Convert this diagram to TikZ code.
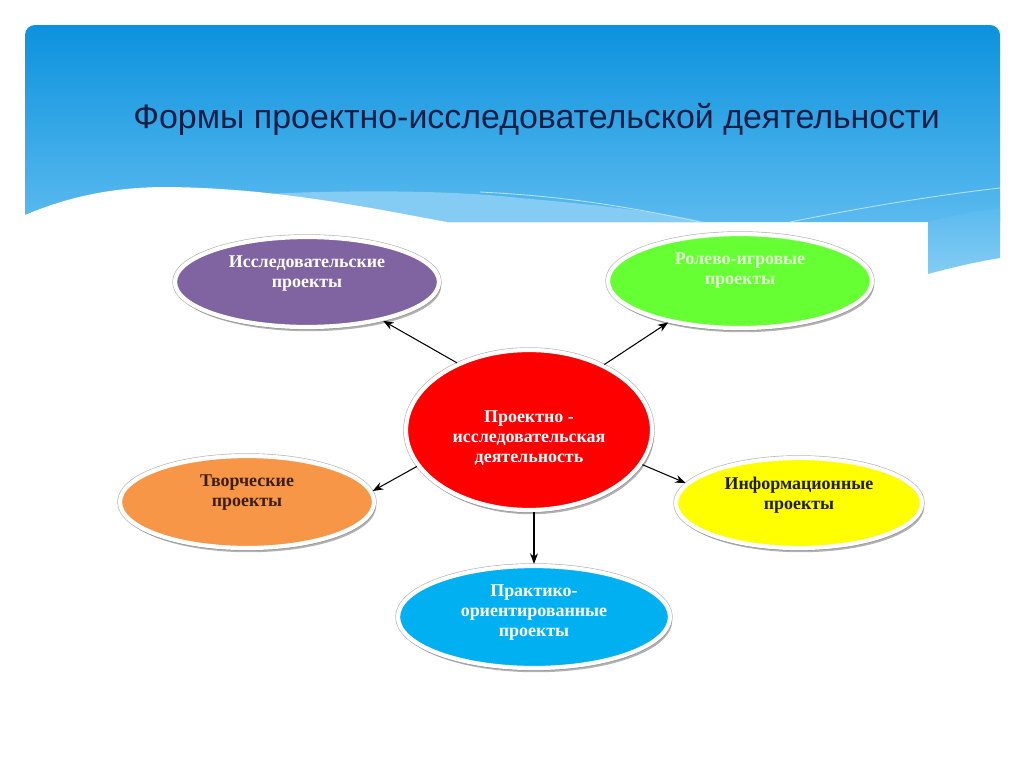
\documentclass[tikz,border=0pt]{standalone}
\usepackage{fontspec}
\setmainfont{Liberation Serif}
\newfontfamily\titlefont{Liberation Sans}
\usetikzlibrary{shapes.geometric,arrows.meta,shadows}
\definecolor{hdtop}{RGB}{12,146,221}
\definecolor{hdbot}{RGB}{90,186,239}
\definecolor{bandc}{RGB}{132,204,243}
\definecolor{titlec}{RGB}{22,30,70}
\definecolor{cpurple}{RGB}{128,100,162}
\definecolor{cgreen}{RGB}{102,255,51}
\definecolor{cred}{RGB}{255,0,0}
\definecolor{corange}{RGB}{247,150,70}
\definecolor{cyellow}{RGB}{255,255,0}
\definecolor{cblue}{RGB}{0,176,240}
\definecolor{tgreen}{RGB}{225,250,210}
\definecolor{tbrown}{RGB}{60,30,15}
\definecolor{tdark}{RGB}{30,30,10}
\tikzset{
  oval/.style 2 args={ellipse, inner sep=0pt,
    minimum width={#1*0.02cm}, minimum height={#2*0.02cm},
    draw=white, line width=2.4pt,
    preaction={draw=black!30, line width=3.1pt},
    drop shadow={shadow xshift=1.2pt, shadow yshift=-2.4pt, fill=black!55, opacity=.55}},
  lbl/.style={align=center, inner sep=0pt, font=\fontsize{10.2}{11.4}\selectfont\bfseries},
  arr/.style={draw=black, line width=0.6pt, -{Stealth[length=6pt,width=4.5pt]}},
}
\begin{document}
\begin{tikzpicture}[x=0.02cm,y=-0.02cm]
\useasboundingbox (0,0) rectangle (1024,768);
\fill[white] (0,0) rectangle (1024,768);
% header
\shade[top color=hdtop,bottom color=hdbot] (25,222) [rounded corners=0.2cm] -- (25,25) -- (1000,25) [sharp corners] -- (1000,222) -- cycle;
\fill[bandc] (262,194) .. controls (350,190) and (450,190) .. (520,198) .. controls (600,205) and (660,212) .. (705,222) -- (262,222) -- cycle;
\draw[white!55!hdbot, line width=0.5pt] (480,192) .. controls (560,196) and (620,205) .. (700,222);
\draw[white!55!hdbot, line width=0.5pt] (790,222) .. controls (860,208) and (930,196) .. (1000,188);
\shade[top color=hdbot, bottom color=bandc] (928,222) -- (928,274) .. controls (950,268) and (975,262) .. (1000,258) -- (1000,208) .. controls (970,212) and (950,216) .. (928,222) -- cycle;
\fill[white] (25,215) .. controls (70,196) and (115,187) .. (167,187) .. controls (280,188) and (380,210) .. (447,222) -- (447,226) -- (25,226) -- cycle;
% title
\node[anchor=base west, inner sep=0pt, text=titlec, font=\titlefont\fontsize{19.3}{22}\selectfont] (title) at (133,128) {Формы проектно-исследовательской деятельности};
% ovals
\node[oval={264}{90}, fill=cpurple, label={[lbl, text=white, yshift=5pt]center:{Исследовательские\\проекты}}] (pu) at (307,282) {};
\node[oval={264}{94}, fill=cgreen, label={[lbl, text=tgreen, yshift=6pt]center:{Ролево-игровые\\проекты}}] (gr) at (740,281) {};
\node[oval={246}{160}, fill=cred, label={[lbl, text=white, yshift=-4.5pt]center:{Проектно -\\исследовательская\\деятельность}}] (ce) at (529,430) {};
\node[oval={254}{92}, fill=corange, label={[lbl, text=tbrown, yshift=5.5pt]center:{Творческие\\проекты}}] (or) at (247,502) {};
\node[oval={246}{90}, fill=cyellow, label={[lbl, text=tdark, yshift=4.5pt]center:{Информационные\\проекты}}] (ye) at (799,503) {};
\node[oval={272}{102}, fill=cblue, label={[lbl, text=white, yshift=2.5pt]center:{Практико-\\ориентированные\\проекты}}] (bl) at (534,617) {};
% arrows
\draw[arr] (ce.137) -- (pu.333);
\draw[arr] (ce.41) -- (gr.210);
\draw[arr] (ce.198) -- (or.5);
\draw[arr] (ce.343) -- (ye.170);
\draw[arr] (ce.south -| bl.north) -- (bl.north);
\end{tikzpicture}
\end{document}
